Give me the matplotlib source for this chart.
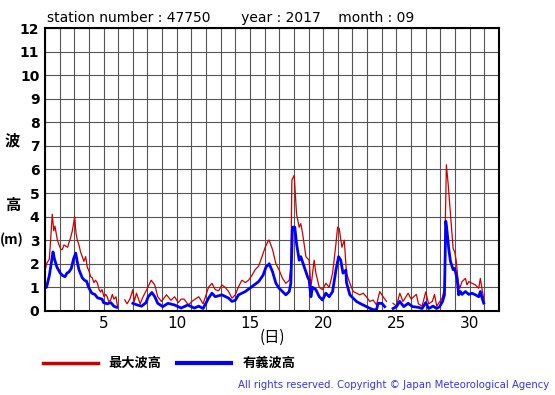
import numpy as np
import matplotlib
matplotlib.use("Agg")
import matplotlib.pyplot as plt

plt.rcParams['font.family'] = ['DejaVu Sans', 'Noto Sans CJK JP']

nan = np.nan

# maximum wave height (m)
max_day = [1.0, 1.11, 1.3, 1.5, 1.6, 1.68, 1.85, 1.96, 2.1, 2.18, 2.3, 2.41, 2.55, 2.64,
           2.75, 2.87, 3.03, 3.12, 3.21, 3.32, 3.43, 3.55, 3.66, 3.78, 3.89, 4.0, 4.12,
           4.23, 4.34, 4.45, 4.57, 4.7, 4.8, 4.9, 5.03, 5.15, 5.25, 5.35, 5.48, 5.6, 5.71,
           5.85, 5.95, 6.1, 6.45, 6.6, 6.8, 7.0, 7.1, 7.25, 7.5, 7.7, 7.95, 8.15, 8.25,
           8.5, 8.7, 8.95, 9.3, 9.6, 9.85, 10.1, 10.3, 10.5, 10.8, 11.03, 11.5, 11.8,
           12.17, 12.4, 12.63, 12.86, 13.08, 13.3, 13.54, 13.77, 14.0, 14.22, 14.45,
           14.68, 14.9, 15.13, 15.36, 15.59, 15.82, 16.04, 16.27, 16.31, 16.54, 16.77,
           16.99, 17.22, 17.45, 17.68, 17.79, 17.86, 18.02, 18.09, 18.18, 18.36, 18.47,
           18.59, 18.82, 19.04, 19.16, 19.38, 19.5, 19.73, 19.95, 20.18, 20.41, 20.64,
           20.87, 20.98, 21.09, 21.28, 21.44, 21.59, 21.82, 22.05, 22.27, 22.5, 22.73,
           22.95, 23.18, 23.41, 23.64, 23.86, 24.09, 24.32, 24.5, 24.77, 25.0, 25.23,
           25.45, 25.8, 26.0, 26.36, 26.5, 26.75, 27.0, 27.2, 27.45, 27.6, 27.75, 27.89,
           28.12, 28.28, 28.34, 28.41, 28.53, 28.64, 28.75, 28.87, 28.98, 29.09, 29.21,
           29.32, 29.48, 29.71, 29.82, 29.94, 30.16, 30.39, 30.62, 30.73, 30.85, 30.96]
max_wave = [1.7, 2.0, 2.2, 4.1, 3.4, 3.6, 3.0, 2.8, 2.6, 2.6, 2.8, 2.75, 2.7, 2.9,
            3.1, 3.4, 4.0, 3.3, 3.0, 2.8, 2.5, 2.3, 2.1, 2.3, 1.85, 1.7, 1.45,
            1.4, 1.2, 1.3, 1.2, 0.9, 0.8, 0.9, 0.6, 0.7, 0.6, 0.4, 0.45, 0.7, 0.5,
            0.6, 0.2, nan, 0.47, 0.3, 0.5, 0.9, 0.4, 0.75, 0.3, 0.6, 0.9, 1.17, 1.3,
            1.1, 0.6, 0.4, 0.68, 0.45, 0.6, 0.35, 0.5, 0.5, 0.25, 0.4, 0.6, 0.3,
            1.0, 1.17, 0.9, 0.85, 1.1, 1.0, 0.82, 0.54, 0.68, 1.03, 1.3,
            1.2, 1.3, 1.5, 1.75, 1.9, 2.3, 2.7, 3.0, 3.0, 2.6, 2.0,
            1.73, 1.38, 1.17, 1.3, 1.87, 5.55, 5.75, 5.0, 4.1, 3.55, 3.7,
            3.3, 2.3, 2.15, 1.0, 2.15, 1.6, 1.0, 0.9, 1.17, 1.0, 1.6,
            2.85, 3.55, 3.5, 2.7, 3.0, 1.6, 1.17, 0.82, 0.75, 0.68, 0.75,
            0.6, 0.4, 0.46, 0.25, 0.82, 0.6, 0.4, nan, 0.32, 0.2, 0.75,
            0.4, 0.75, 0.5, 0.7, 0.3, 0.2, 0.8, 0.3, 0.4, 0.7, 0.2, 0.33,
            0.54, 0.96, 3.8, 6.2, 5.4, 4.5, 3.65, 2.65, 2.5, 2.1, 1.24,
            0.96, 1.24, 1.38, 1.1, 1.24, 1.17, 1.1, 0.96, 1.38, 0.9, 0.54]

# significant wave height (m)
sig_day = [1.0, 1.11, 1.3, 1.55, 1.65, 1.82, 2.05, 2.2, 2.37, 2.5, 2.64, 2.8, 2.95,
           3.1, 3.2, 3.32, 3.55, 3.7, 3.85, 3.98, 4.2, 4.4, 4.6, 4.9, 5.0, 5.25, 5.5,
           5.7, 5.9, 6.1, 6.45, 6.6, 7.0, 7.3, 7.6, 7.9, 8.05, 8.3, 8.5, 8.7, 9.05, 9.4,
           9.85, 10.3, 10.75, 11.2, 11.5, 11.8, 12.17, 12.4, 12.63, 13.08, 13.54, 13.77,
           14.0, 14.22, 14.68, 15.13, 15.59, 15.9, 16.1, 16.25, 16.31, 16.54, 16.77,
           16.99, 17.22, 17.45, 17.68, 17.79, 17.9, 18.06, 18.18, 18.36, 18.47, 18.7,
           18.93, 19.04, 19.16, 19.27, 19.5, 19.73, 19.95, 20.18, 20.41, 20.64, 20.87,
           21.05, 21.2, 21.35, 21.55, 21.59, 21.82, 22.05, 22.27, 22.5, 22.73, 22.95,
           23.18, 23.41, 23.64, 23.75, 24.0, 24.2, 24.5, 24.77, 25.0, 25.23, 25.5, 25.8,
           26.1, 26.5, 26.75, 27.0, 27.2, 27.5, 27.75, 27.95, 28.15, 28.28, 28.37,
           28.46, 28.57, 28.69, 28.87, 28.98, 29.14, 29.25, 29.37, 29.48, 29.71, 29.94,
           30.16, 30.39, 30.62, 30.73, 30.85, 30.96]
sig_wave = [1.0, 1.0, 1.5, 2.5, 2.2, 1.85, 1.6, 1.5, 1.45, 1.6, 1.65, 1.8, 2.2,
            2.45, 2.1, 1.75, 1.4, 1.3, 1.25, 1.0, 0.75, 0.7, 0.55, 0.5, 0.35, 0.3, 0.35,
            0.2, 0.15, nan, 0.18, nan, 0.32, 0.25, 0.2, 0.35, 0.6, 0.78, 0.6, 0.32, 0.18, 0.32,
            0.25, 0.12, 0.25, 0.12, 0.2, 0.1, 0.54, 0.75, 0.6, 0.68, 0.54, 0.4,
            0.45, 0.68, 0.82, 1.03, 1.24, 1.52, 1.87, 1.95, 2.0, 1.66, 1.17,
            0.96, 0.82, 0.68, 0.82, 1.17, 3.55, 3.55, 2.85, 2.15, 2.3, 1.87,
            1.45, 1.3, 0.6, 1.0, 0.9, 0.6, 0.46, 0.75, 0.6, 0.82, 1.73,
            2.3, 2.15, 1.6, 1.73, 1.2, 0.68, 0.54, 0.4, 0.32, 0.25, 0.18,
            0.11, 0.05, 0.05, 0.32, 0.32, 0.18, nan, 0.1, 0.18, 0.4, 0.18, 0.32,
            0.18, 0.15, 0.1, 0.35, 0.1, 0.2, 0.1, 0.18, 0.4, 0.68, 3.8,
            3.35, 2.65, 2.1, 1.75, 1.8, 1.38, 0.68, 0.82, 0.7, 0.82, 0.7,
            0.75, 0.68, 0.6, 0.82, 0.54, 0.33]

x_ticks = [5, 10, 15, 20, 25, 30]
y_ticks = list(range(0, 13))

fig = plt.figure(figsize=(5.55, 3.95), dpi=100)
ax = fig.add_axes([0.081, 0.213, 0.818, 0.716])

ax.plot(max_day, max_wave, c="#cc0000", lw=0.9)
ax.plot(sig_day, sig_wave, c="#0000ff", lw=2.0)

ax.set_xlim(1, 32)
ax.set_ylim(0, 12)
ax.set_xticks(range(1, 33), minor=True)
ax.set_xticks(x_ticks)
ax.set_yticks(y_ticks)
ax.grid(True, which="both", color="#555555", lw=0.8)
ax.tick_params(axis="both", which="both", length=0)
ax.tick_params(axis="x", labelsize=11, pad=4)
ax.tick_params(axis="y", labelsize=10, pad=4)
for lab in ax.get_yticklabels():
    lab.set_fontweight("bold")
for s in ax.spines.values():
    s.set_linewidth(1.5)

fig.text(0.085, 0.945, "station number : 47750       year : 2017    month : 09", fontsize=10)

cjk = ['Noto Sans CJK JP', 'DejaVu Sans']
fig.text(0.022, 0.645, "波", fontsize=11, fontweight="bold", family=cjk, ha="center", va="center")
fig.text(0.022, 0.48, "高", fontsize=11, fontweight="bold", family=cjk, ha="center", va="center")
fig.text(0.022, 0.393, "(m)", fontsize=10, fontweight="bold", family=cjk, ha="center", va="center")
fig.text(0.49, 0.145, "(日)", fontsize=11, family=cjk, ha="center", va="center")

# legend drawn by hand
fig.add_artist(plt.Line2D([0.077, 0.177], [0.081, 0.081], color="#cc0000", lw=2.5))
fig.text(0.195, 0.081, "最大波高", fontsize=9.5, fontweight="bold", family=cjk, va="center")
fig.add_artist(plt.Line2D([0.319, 0.417], [0.081, 0.081], color="#0000ff", lw=3))
fig.text(0.438, 0.081, "有義波高", fontsize=9.5, fontweight="bold", family=cjk, va="center")

fig.text(0.99, 0.025, "All rights reserved. Copyright \u00a9 Japan Meteorological Agency",
         fontsize=7.3, color="#3333ff", ha="right", va="center")

fig.savefig("out.png", dpi=100)
